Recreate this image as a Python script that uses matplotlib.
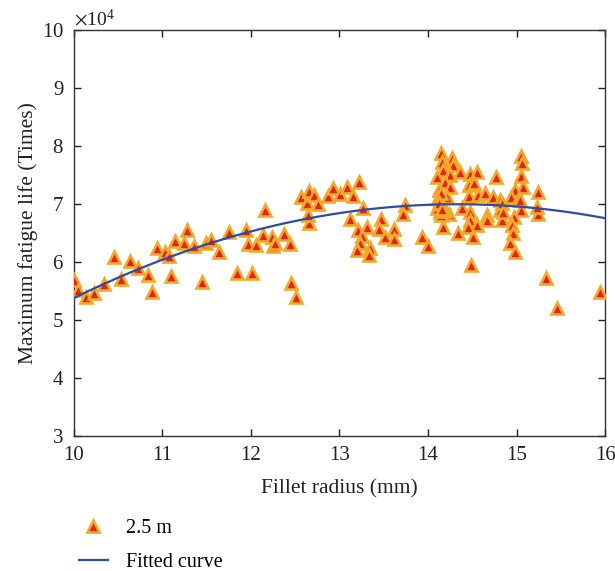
import numpy as np
import matplotlib
matplotlib.use("Agg")
import matplotlib.pyplot as plt
from matplotlib.ticker import ScalarFormatter

plt.rcParams['font.family'] = ['Liberation Serif', 'DejaVu Serif']
plt.rcParams['mathtext.fontset'] = 'stix'

# Fillet radius (mm)
radius = [10.00, 10.05, 10.14, 10.23, 10.34, 10.45, 10.53, 10.64, 10.72, 10.84,
          10.88, 10.94, 11.03, 11.07, 11.10, 11.14, 11.24, 11.28, 11.36, 11.45,
          11.49, 11.55, 11.64, 11.75, 11.84, 11.95, 11.97, 12.01, 12.06, 12.16,
          12.14, 12.24, 12.25, 12.27, 12.37, 12.44, 12.45, 12.51, 12.56, 12.63,
          12.66, 12.66, 12.64, 12.71, 12.76, 12.87, 12.93, 13.01, 13.08, 13.15,
          13.22, 13.27, 13.12, 13.21, 13.31, 13.25, 13.23, 13.20, 13.34, 13.33,
          13.47, 13.45, 13.62, 13.51, 13.62, 13.74, 13.72, 13.93, 14.00, 14.15,
          14.16, 14.27, 14.28, 14.17, 14.10, 14.25, 14.19, 14.12, 14.25, 14.36,
          14.47, 14.55, 14.77, 14.46, 14.52, 14.11, 14.21, 14.16, 14.14, 14.24,
          14.38, 14.46, 14.56, 14.64, 14.73, 14.81, 14.47, 14.47, 14.55, 14.67,
          14.67, 14.81, 14.84, 14.17, 14.34, 14.45, 14.51, 14.49, 14.14, 14.14,
          14.10, 14.15, 15.05, 15.06, 15.05, 15.07, 14.98, 14.94, 15.02, 14.84,
          14.85, 15.05, 15.24, 15.24, 15.23, 14.97, 14.95, 14.96, 14.93, 14.98,
          15.33, 15.46, 15.94, 15.04, 14.15, 14.19, 14.13, 14.17, 14.12, 14.16]
# Maximum fatigue life (x10^4 times)
life = [5.69, 5.52, 5.40, 5.47, 5.62, 6.09, 5.71, 6.03, 5.90, 5.78,
        5.48, 6.24, 6.17, 6.10, 5.76, 6.36, 6.34, 6.55, 6.28, 5.66,
        6.33, 6.38, 6.17, 6.53, 5.81, 6.55, 6.31, 5.81, 6.29, 6.90,
        6.47, 6.43, 6.28, 6.34, 6.48, 6.31, 5.64, 5.40, 7.12, 7.03,
        7.22, 6.67, 6.81, 7.16, 7.00, 7.14, 7.28, 7.17, 7.29, 7.14,
        7.38, 6.93, 6.74, 6.55, 6.60, 6.45, 6.34, 6.21, 6.24, 6.12,
        6.74, 6.57, 6.57, 6.43, 6.40, 6.98, 6.84, 6.43, 6.28, 7.88,
        7.72, 7.79, 7.67, 7.59, 7.47, 7.50, 7.38, 7.24, 7.29, 7.55,
        7.53, 7.55, 7.47, 7.33, 7.36, 7.10, 7.12, 6.95, 6.86, 6.83,
        6.93, 7.14, 7.16, 7.19, 7.12, 7.07, 6.86, 6.72, 6.64, 6.81,
        6.72, 6.90, 6.72, 6.60, 6.50, 6.60, 6.43, 5.95, 6.98, 7.07,
        6.93, 7.19, 7.84, 7.71, 7.48, 7.29, 7.24, 7.12, 7.09, 7.02,
        6.86, 6.90, 7.21, 6.84, 6.95, 6.78, 6.64, 6.50, 6.34, 6.17,
        5.72, 5.21, 5.48, 7.07, 6.81, 6.90, 7.01, 6.88, 7.03, 6.92]
# Fitted quadratic (x10^4): a*r^2 + b*r + c
fit_coef = [-0.0863, 2.4734, -10.722]

scale = 1e4
fig = plt.figure(figsize=(6.15, 5.71), dpi=100)
ax = fig.add_axes([0.120, 0.236, 0.864, 0.711])

ax.plot(radius, np.array(life) * scale, linestyle='none', marker='^',
        markersize=8.5, markerfacecolor='#E3241B', markeredgecolor='#F2A92A',
        markeredgewidth=1.9, label='2.5 m', zorder=3)
xr = np.linspace(10, 16, 300)
ax.plot(xr, np.polyval(fit_coef, xr) * scale, color='#2F4C9E', linewidth=1.6,
        label='Fitted curve', zorder=4)

ax.set_xlim(10, 16)
ax.set_ylim(3e4, 10e4)
ax.set_xticks([10, 11, 12, 13, 14, 15, 16])
ax.set_yticks(np.arange(3, 11) * scale)
fmt = ScalarFormatter(useMathText=True)
fmt.set_powerlimits((4, 4))
ax.yaxis.set_major_formatter(fmt)
ax.yaxis.get_offset_text().set_fontsize(14)
ax.tick_params(direction='in', top=True, right=True, length=5, width=1,
               labelsize=15, colors='#222222')
ax.tick_params(axis='x', pad=7)
ax.tick_params(axis='y', pad=7)
for s in ax.spines.values():
    s.set_linewidth(1.0)
    s.set_color('#333333')
ax.set_xlabel('Fillet radius (mm)', fontsize=15.5, color='#222222', labelpad=10)
ax.set_ylabel('Maximum fatigue life (Times)', fontsize=15.5, color='#222222',
              labelpad=3)

h, l = ax.get_legend_handles_labels()
fig.legend(h, l, loc='upper left', bbox_to_anchor=(0.115, 0.105),
           frameon=False, fontsize=14.5, handlelength=1.45, handletextpad=0.9,
           labelspacing=0.75, borderaxespad=0)

fig.savefig('out.png', dpi=100)
